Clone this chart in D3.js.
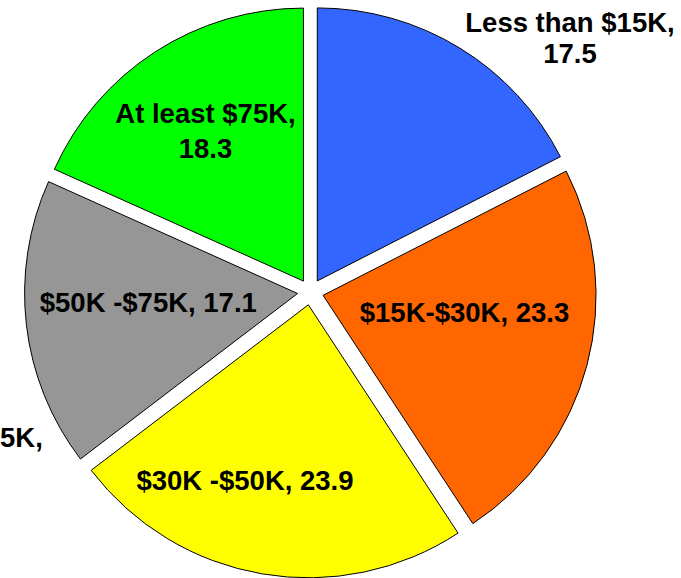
<!DOCTYPE html>
<html>
<head>
<meta charset="utf-8">
<script src="https://cdn.jsdelivr.net/npm/d3@7"></script>
<style>
  html, body { margin: 0; padding: 0; background: #fff; }
  svg { display: block; }
  text { font-family: Arial, "Liberation Sans", sans-serif; font-weight: bold; fill: #000; }
</style>
</head>
<body>
<svg id="chart" width="681" height="578"></svg>
<script>
// Household income brackets and their shares (%)
const categories = ["Less than $15K", "$15K-$30K", "$30K -$50K", "$50K -$75K", "At least $75K"];
const values = [17.5, 23.3, 23.9, 17.1, 18.3];
const colors = ["#3366FF", "#FF6600", "#FFFF00", "#969696", "#00FF00"];

// Label text lines per slice, and where each label block sits
// (center x, first baseline y, line step)
const labelLines = [
  ["Less than $15K,", "17.5"],
  ["$15K-$30K, 23.3"],
  ["$30K -$50K, 23.9"],
  ["$50K -$75K, 17.1"],
  ["At least $75K,", "18.3"]
];
const labelPos = [
  [570, 31.7, 31.6],
  [464.5, 321.7, 0],
  [245, 490, 0],
  [148.3, 311.7, 0],
  [205.5, 122.7, 35.6]
];

const W = 681, H = 578;
const cx = 310.5, cy = 292;   // pie center
const R = 273;                // pie radius
const explode = 13;           // outward offset of each slice

const svg = d3.select("#chart");

const pie = d3.pie().sort(null).value(d => d).startAngle(0).endAngle(2 * Math.PI);
const arcs = pie(values);
const arc = d3.arc().innerRadius(0).outerRadius(R);

const g = svg.append("g").attr("transform", `translate(${cx},${cy})`);

g.selectAll("path.slice")
  .data(arcs)
  .join("path")
  .attr("class", "slice")
  .attr("transform", d => {
    const mid = (d.startAngle + d.endAngle) / 2;
    return `translate(${explode * Math.sin(mid)},${-explode * Math.cos(mid)})`;
  })
  .attr("d", arc)
  .attr("fill", (d, i) => colors[i])
  .attr("stroke", "#000")
  .attr("stroke-width", 1)
  .attr("stroke-linejoin", "miter");

// Data labels
const fontSize = 27.5;
labelLines.forEach((lines, i) => {
  const [x, y, step] = labelPos[i];
  const t = svg.append("text")
    .attr("text-anchor", "middle")
    .style("font-size", fontSize + "px");
  lines.forEach((ln, k) => {
    t.append("tspan").attr("x", x).attr("y", y + k * step).text(ln);
  });
});

// Leftover label fragment at the left margin
svg.append("text")
  .attr("x", 0).attr("y", 446.5)
  .attr("text-anchor", "start")
  .style("font-size", fontSize + "px")
  .text("5K,");
</script>
</body>
</html>
